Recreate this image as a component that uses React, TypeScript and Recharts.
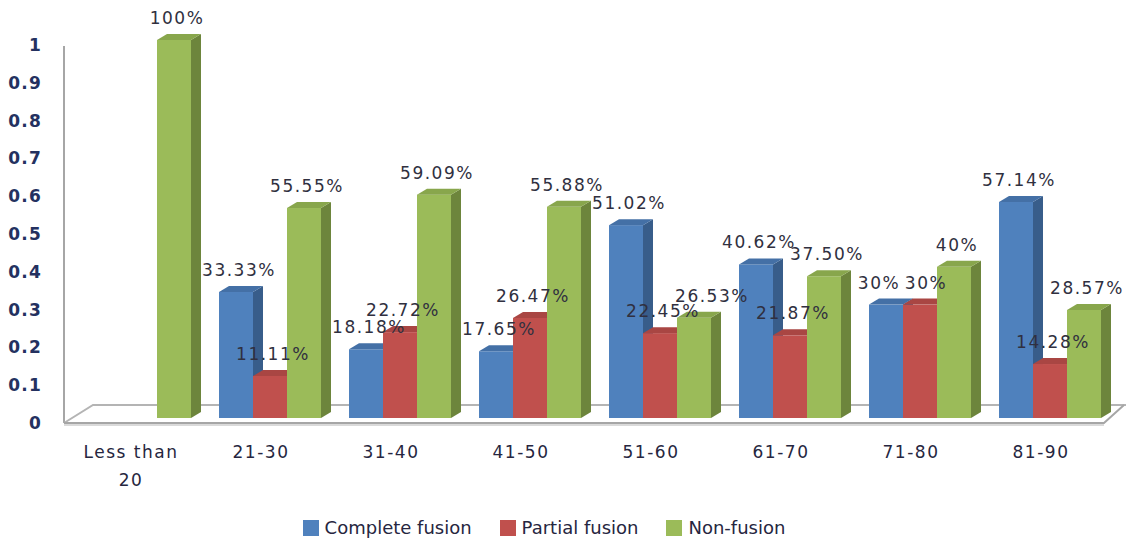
import { BarChart, Bar, XAxis, YAxis, LabelList, Legend } from 'recharts';

const categories = ['Less than 20', '21-30', '31-40', '41-50', '51-60', '61-70', '71-80', '81-90'];
const completeFusion = [0, 0.3333, 0.1818, 0.1765, 0.5102, 0.4062, 0.3, 0.5714];
const partialFusion = [0, 0.1111, 0.2272, 0.2647, 0.2245, 0.2187, 0.3, 0.1428];
const nonFusion = [1, 0.5555, 0.5909, 0.5588, 0.2653, 0.375, 0.4, 0.2857];
const yTicks = [0, 0.1, 0.2, 0.3, 0.4, 0.5, 0.6, 0.7, 0.8, 0.9, 1];

const series = [
  { key: 'complete', label: 'Complete fusion', front: '#4f81bd', side: '#385d8a', top: '#4470a6' },
  { key: 'partial', label: 'Partial fusion', front: '#c0504d', side: '#8c3836', top: '#a94643' },
  { key: 'non', label: 'Non-fusion', front: '#9bbb59', side: '#6d853c', top: '#88a64c' },
];

// sideways shifts for labels that would otherwise collide with a neighbour
const labelShift: Record<string, number> = {
  'complete-6': -10,
  'partial-6': 3,
  'non-4': 15,
};

const data = categories.map((category, i) => ({
  category,
  complete: completeFusion[i],
  partial: partialFusion[i],
  non: nonFusion[i],
}));

const W = 1126;
const H = 540;
// depth of the extruded bars / floor
const DX = 10;
const DY = 6;

const LABEL_FONT = '"DejaVu Sans", Verdana, sans-serif';

const pct = (v: number) => {
  const p = v * 100;
  return Math.abs(p - Math.round(p)) < 1e-6 ? `${Math.round(p)}%` : `${p.toFixed(2)}%`;
};

const box3d = (s: (typeof series)[number]) => (props: any) => {
  const { x, y, width: w, height: h } = props;
  if (!h || h <= 0) return <g />;
  return (
    <g>
      <rect x={x} y={y} width={w} height={h} fill={s.front} />
      <polygon
        points={`${x + w},${y} ${x + w + DX},${y - DY} ${x + w + DX},${y + h - DY} ${x + w},${y + h}`}
        fill={s.side}
      />
      <polygon
        points={`${x},${y} ${x + DX},${y - DY} ${x + w + DX},${y - DY} ${x + w},${y}`}
        fill={s.top}
      />
    </g>
  );
};

const valueLabel = (key: string) => (props: any) => {
  const { x, y, width, value, index } = props;
  if (!value) return null;
  const shift = labelShift[`${key}-${index}`] ?? 0;
  return (
    <text
      x={Number(x) + Number(width) / 2 + 3 + shift}
      y={Number(y) - 21}
      textAnchor="middle"
      dominantBaseline="middle"
      fontFamily={LABEL_FONT}
      fontSize={17}
      letterSpacing={1.5}
      fill="#303040"
    >
      {pct(Number(value))}
    </text>
  );
};

const CategoryTick = (props: any) => {
  const { x, payload } = props;
  const text: string = payload.value;
  const cut = text.length > 8 ? text.lastIndexOf(' ') : -1;
  const lines = cut > 0 ? [text.slice(0, cut), text.slice(cut + 1)] : [text];
  return (
    <text
      x={x - 9}
      y={458}
      textAnchor="middle"
      fontFamily={LABEL_FONT}
      fontSize={17}
      letterSpacing={1.5}
      fill="#262640"
    >
      {lines.map((l, i) => (
        <tspan key={l} x={x - 9} dy={i === 0 ? 0 : 28}>
          {l}
        </tspan>
      ))}
    </text>
  );
};

const ValueTick = (props: any) => {
  const { y, payload } = props;
  return (
    <text
      x={42}
      y={y + 6}
      textAnchor="end"
      dominantBaseline="middle"
      fontFamily={LABEL_FONT}
      fontWeight="bold"
      fontSize={17}
      letterSpacing={1.2}
      fill="#243160"
    >
      {String(Number(Number(payload.value).toFixed(1)))}
    </text>
  );
};

const LegendRow = () => (
  <div
    style={{
      display: 'flex',
      justifyContent: 'center',
      alignItems: 'center',
      gap: 28,
      fontFamily: LABEL_FONT,
      fontSize: 18,
      color: '#262640',
    }}
  >
    {series.map((s) => (
      <div key={s.key} style={{ display: 'flex', alignItems: 'center', gap: 6 }}>
        <span style={{ width: 16, height: 16, background: s.front, display: 'inline-block' }} />
        <span>{s.label}</span>
      </div>
    ))}
  </div>
);

// floor and vertical wall edge behind the bars
const Floor = () => (
  <svg width={W} height={H} style={{ position: 'absolute', left: 0, top: 0 }}>
    <line x1={64} y1={46} x2={64} y2={423} stroke="#a6a6a6" strokeWidth={2} />
    <polyline points="64,423 93,405 1126,405" fill="none" stroke="#b4b4b4" strokeWidth={2} />
    <line x1={64} y1={425} x2={1104} y2={425} stroke="#dadada" strokeWidth={2} />
    <polyline points="64,423 1104,423 1124,405" fill="none" stroke="#a6a6a6" strokeWidth={2} />
  </svg>
);

export default function App() {
  return (
    <div style={{ position: 'absolute', left: 0, top: 0, width: W, height: H, background: '#fff' }}>
      <Floor />
      <div style={{ position: 'absolute', left: 0, top: 0 }}>
        <BarChart
          width={W}
          height={H}
          data={data}
          margin={{ top: 40, right: 11, bottom: 82, left: 0 }}
          barCategoryGap={14}
          barGap={0}
        >
          <XAxis
            dataKey="category"
            height={40}
            axisLine={false}
            tickLine={false}
            interval={0}
            tick={<CategoryTick />}
          />
          <YAxis
            domain={[0, 1]}
            ticks={yTicks}
            width={75}
            axisLine={false}
            tickLine={false}
            tick={<ValueTick />}
          />
          <Legend
            layout="horizontal"
            verticalAlign="middle"
            align="center"
            wrapperStyle={{ top: 517, left: 0, width: 1088 }}
            content={() => <LegendRow />}
          />
          {series.map((s) => (
            <Bar
              key={s.key}
              dataKey={s.key}
              name={s.label}
              fill={s.front}
              shape={box3d(s)}
              isAnimationActive={false}
            >
              <LabelList dataKey={s.key} content={valueLabel(s.key)} />
            </Bar>
          ))}
        </BarChart>
      </div>
    </div>
  );
}
